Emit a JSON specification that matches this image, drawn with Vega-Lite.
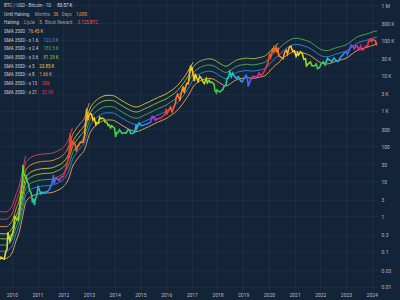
{
"$schema":"https://vega.github.io/schema/vega-lite/v6.json",
"width":378,"height":290,
"autosize":{"type":"none"},
"padding":{"left":0,"top":0,"right":22,"bottom":10},
"background":"#142438",
"config":{"view":{"stroke":null},"font":"Roboto"},
"datasets":{
"price":[
{"date":"2010-07-18","price":0.06},{"date":"2010-08-01","price":0.07},{"date":"2010-08-20","price":0.065},{"date":"2010-09-15","price":0.062},{"date":"2010-10-07","price":0.1},{"date":"2010-10-25","price":0.12},{"date":"2010-11-06","price":0.35},{"date":"2010-11-20","price":0.27},{"date":"2010-12-05","price":0.2},{"date":"2010-12-20","price":0.25},
{"date":"2011-01-10","price":0.32},{"date":"2011-01-28","price":0.45},{"date":"2011-02-10","price":1.05},{"date":"2011-02-25","price":0.9},{"date":"2011-03-15","price":0.85},{"date":"2011-04-01","price":0.78},{"date":"2011-04-20","price":1.4},{"date":"2011-05-05","price":3.4},{"date":"2011-05-20","price":6.5},{"date":"2011-06-01","price":9.5},{"date":"2011-06-08","price":29},{"date":"2011-06-15","price":17},{"date":"2011-06-25","price":16},{"date":"2011-07-10","price":14.5},{"date":"2011-07-25","price":13.8},{"date":"2011-08-10","price":9.5},{"date":"2011-08-25","price":8.5},{"date":"2011-09-10","price":5.5},{"date":"2011-09-25","price":5},{"date":"2011-10-10","price":4},{"date":"2011-10-20","price":2.5},{"date":"2011-11-05","price":3.2},{"date":"2011-11-18","price":2.1},{"date":"2011-12-01","price":3},{"date":"2011-12-20","price":3.9},
{"date":"2012-01-10","price":6.8},{"date":"2012-01-25","price":5.8},{"date":"2012-02-15","price":4.4},{"date":"2012-03-01","price":4.9},{"date":"2012-03-20","price":4.7},{"date":"2012-04-10","price":4.9},{"date":"2012-05-01","price":5},{"date":"2012-05-20","price":5.1},{"date":"2012-06-10","price":5.6},{"date":"2012-06-30","price":6.7},{"date":"2012-07-20","price":8.5},{"date":"2012-08-05","price":11},{"date":"2012-08-16","price":15},{"date":"2012-08-20","price":8.5},{"date":"2012-09-05","price":10.5},{"date":"2012-09-25","price":12.2},{"date":"2012-10-15","price":11.6},{"date":"2012-11-01","price":10.6},{"date":"2012-11-20","price":12},{"date":"2012-12-10","price":13.4},{"date":"2012-12-31","price":13.5},
{"date":"2013-01-20","price":17},{"date":"2013-02-10","price":24},{"date":"2013-02-28","price":33},{"date":"2013-03-15","price":47},{"date":"2013-03-31","price":93},{"date":"2013-04-09","price":230},{"date":"2013-04-16","price":70},{"date":"2013-04-28","price":135},{"date":"2013-05-15","price":115},{"date":"2013-06-01","price":128},{"date":"2013-06-20","price":108},{"date":"2013-07-05","price":70},{"date":"2013-07-20","price":92},{"date":"2013-08-10","price":105},{"date":"2013-08-30","price":128},{"date":"2013-09-20","price":127},{"date":"2013-10-10","price":130},{"date":"2013-10-30","price":200},{"date":"2013-11-10","price":330},{"date":"2013-11-20","price":600},{"date":"2013-11-29","price":1150},{"date":"2013-12-07","price":800},{"date":"2013-12-18","price":540},{"date":"2013-12-31","price":740},
{"date":"2014-01-15","price":830},{"date":"2014-02-05","price":800},{"date":"2014-02-25","price":550},{"date":"2014-03-15","price":620},{"date":"2014-04-10","price":400},{"date":"2014-04-25","price":460},{"date":"2014-05-15","price":440},{"date":"2014-06-02","price":650},{"date":"2014-06-20","price":590},{"date":"2014-07-10","price":620},{"date":"2014-08-01","price":590},{"date":"2014-08-18","price":480},{"date":"2014-09-10","price":475},{"date":"2014-09-30","price":385},{"date":"2014-10-15","price":395},{"date":"2014-11-05","price":330},{"date":"2014-11-20","price":375},{"date":"2014-12-10","price":350},{"date":"2014-12-31","price":315},
{"date":"2015-01-14","price":180},{"date":"2015-01-28","price":240},{"date":"2015-02-15","price":235},{"date":"2015-03-10","price":290},{"date":"2015-04-01","price":250},{"date":"2015-04-20","price":225},{"date":"2015-05-15","price":240},{"date":"2015-06-10","price":230},{"date":"2015-07-10","price":290},{"date":"2015-07-30","price":285},{"date":"2015-08-20","price":225},{"date":"2015-09-15","price":230},{"date":"2015-10-10","price":245},{"date":"2015-11-04","price":400},{"date":"2015-11-12","price":310},{"date":"2015-12-15","price":450},
{"date":"2016-01-15","price":380},{"date":"2016-02-10","price":380},{"date":"2016-03-05","price":410},{"date":"2016-04-01","price":415},{"date":"2016-05-01","price":450},{"date":"2016-05-25","price":470},{"date":"2016-06-17","price":730},{"date":"2016-06-25","price":620},{"date":"2016-07-15","price":660},{"date":"2016-08-02","price":540},{"date":"2016-08-25","price":580},{"date":"2016-09-20","price":600},{"date":"2016-10-20","price":630},{"date":"2016-11-15","price":710},{"date":"2016-12-20","price":790},
{"date":"2017-01-04","price":1130},{"date":"2017-01-12","price":780},{"date":"2017-02-01","price":980},{"date":"2017-03-03","price":1270},{"date":"2017-03-25","price":930},{"date":"2017-04-20","price":1230},{"date":"2017-05-15","price":1750},{"date":"2017-05-25","price":2400},{"date":"2017-06-12","price":2950},{"date":"2017-06-30","price":2450},{"date":"2017-07-16","price":1930},{"date":"2017-08-05","price":3200},{"date":"2017-08-20","price":4100},{"date":"2017-09-01","price":4900},{"date":"2017-09-15","price":3200},{"date":"2017-10-01","price":4400},{"date":"2017-10-20","price":6000},{"date":"2017-11-12","price":5900},{"date":"2017-11-28","price":9800},{"date":"2017-12-07","price":16000},{"date":"2017-12-17","price":19300},{"date":"2017-12-22","price":13800},
{"date":"2018-01-06","price":17100},{"date":"2018-01-17","price":11100},{"date":"2018-02-06","price":6900},{"date":"2018-02-20","price":11200},{"date":"2018-03-10","price":8800},{"date":"2018-04-01","price":6900},{"date":"2018-04-24","price":9500},{"date":"2018-05-20","price":8200},{"date":"2018-06-12","price":6500},{"date":"2018-06-28","price":5900},{"date":"2018-07-25","price":8200},{"date":"2018-08-10","price":6200},{"date":"2018-09-05","price":7300},{"date":"2018-09-20","price":6400},{"date":"2018-10-20","price":6450},{"date":"2018-11-15","price":5600},{"date":"2018-11-25","price":3800},{"date":"2018-12-15","price":3250},{"date":"2018-12-25","price":3900},
{"date":"2019-01-20","price":3550},{"date":"2019-02-07","price":3400},{"date":"2019-02-25","price":3800},{"date":"2019-03-20","price":4000},{"date":"2019-04-05","price":5000},{"date":"2019-04-30","price":5300},{"date":"2019-05-15","price":8000},{"date":"2019-06-01","price":8500},{"date":"2019-06-26","price":12900},{"date":"2019-07-17","price":9400},{"date":"2019-08-05","price":11800},{"date":"2019-08-29","price":9500},{"date":"2019-09-25","price":8400},{"date":"2019-10-25","price":9300},{"date":"2019-11-25","price":7100},{"date":"2019-12-17","price":6600},
{"date":"2020-01-10","price":7900},{"date":"2020-02-13","price":10300},{"date":"2020-03-01","price":8500},{"date":"2020-03-12","price":4900},{"date":"2020-04-01","price":6300},{"date":"2020-04-30","price":8700},{"date":"2020-05-20","price":9500},{"date":"2020-06-25","price":9200},{"date":"2020-07-25","price":9600},{"date":"2020-08-15","price":11800},{"date":"2020-09-05","price":10200},{"date":"2020-10-01","price":10700},{"date":"2020-10-25","price":13000},{"date":"2020-11-15","price":16000},{"date":"2020-12-01","price":19000},{"date":"2020-12-20","price":23500},
{"date":"2021-01-08","price":40000},{"date":"2021-01-25","price":32500},{"date":"2021-02-20","price":56000},{"date":"2021-02-28","price":45000},{"date":"2021-03-13","price":61000},{"date":"2021-03-25","price":52000},{"date":"2021-04-14","price":63500},{"date":"2021-04-25","price":49000},{"date":"2021-05-10","price":56000},{"date":"2021-05-19","price":37000},{"date":"2021-06-22","price":32500},{"date":"2021-07-20","price":29800},{"date":"2021-08-15","price":47000},{"date":"2021-09-06","price":52000},{"date":"2021-09-21","price":41000},{"date":"2021-10-20","price":65000},{"date":"2021-11-09","price":67500},{"date":"2021-12-04","price":49000},{"date":"2021-12-27","price":50700},
{"date":"2022-01-22","price":35000},{"date":"2022-02-10","price":44000},{"date":"2022-02-24","price":38000},{"date":"2022-03-28","price":47300},{"date":"2022-04-20","price":41500},{"date":"2022-05-12","price":29000},{"date":"2022-06-05","price":30000},{"date":"2022-06-18","price":19000},{"date":"2022-07-10","price":21000},{"date":"2022-08-13","price":24400},{"date":"2022-09-06","price":18800},{"date":"2022-10-15","price":19100},{"date":"2022-11-05","price":21300},{"date":"2022-11-21","price":15800},{"date":"2022-12-20","price":16800},
{"date":"2023-01-20","price":22700},{"date":"2023-02-15","price":24300},{"date":"2023-03-10","price":20100},{"date":"2023-04-14","price":30500},{"date":"2023-05-10","price":27600},{"date":"2023-06-15","price":25100},{"date":"2023-07-13","price":31400},{"date":"2023-08-17","price":26600},{"date":"2023-09-11","price":25100},{"date":"2023-10-24","price":34500},{"date":"2023-11-15","price":37800},{"date":"2023-12-08","price":44000},
{"date":"2024-01-11","price":46600},{"date":"2024-01-23","price":39500},{"date":"2024-02-15","price":51900},{"date":"2024-03-05","price":63700},{"date":"2024-03-14","price":73100},{"date":"2024-04-01","price":69700},{"date":"2024-05-01","price":57500},{"date":"2024-05-21","price":70200},{"date":"2024-06-07","price":69400},{"date":"2024-07-05","price":54000},{"date":"2024-07-29","price":68200},{"date":"2024-08-05","price":54000},{"date":"2024-09-06","price":53900},{"date":"2024-09-27","price":65800},{"date":"2024-10-29","price":72300},{"date":"2024-11-05","price":67800},{"date":"2024-11-12","price":88000},{"date":"2024-11-22","price":98900},{"date":"2024-12-05","price":97000},{"date":"2024-12-17","price":106000},{"date":"2024-12-30","price":92800},
{"date":"2025-01-21","price":106000},{"date":"2025-02-03","price":101000},{"date":"2025-02-20","price":98000},{"date":"2025-02-28","price":84300},{"date":"2025-03-03","price":86000},{"date":"2025-03-11","price":78500},{"date":"2025-03-16","price":83570}
],
"bands":[
{"date":"2010-07-18","band":"SMA 350D","value":0.065},{"date":"2010-10-01","band":"SMA 350D","value":0.064},{"date":"2011-01-01","band":"SMA 350D","value":0.09},{"date":"2011-03-01","band":"SMA 350D","value":0.2},{"date":"2011-04-15","band":"SMA 350D","value":0.35},{"date":"2011-06-08","band":"SMA 350D","value":1.1},{"date":"2011-07-15","band":"SMA 350D","value":2.48},{"date":"2011-09-01","band":"SMA 350D","value":3.3},{"date":"2011-10-15","band":"SMA 350D","value":3.8},{"date":"2012-01-01","band":"SMA 350D","value":4.3},{"date":"2012-04-01","band":"SMA 350D","value":4.6},{"date":"2012-07-01","band":"SMA 350D","value":4.7},{"date":"2012-10-01","band":"SMA 350D","value":5.4},{"date":"2013-01-01","band":"SMA 350D","value":7.0},{"date":"2013-03-01","band":"SMA 350D","value":10},{"date":"2013-04-10","band":"SMA 350D","value":16},{"date":"2013-05-10","band":"SMA 350D","value":25.1},{"date":"2013-07-01","band":"SMA 350D","value":38},{"date":"2013-09-01","band":"SMA 350D","value":55},{"date":"2013-11-01","band":"SMA 350D","value":80},{"date":"2013-12-04","band":"SMA 350D","value":130},{"date":"2014-01-05","band":"SMA 350D","value":207},{"date":"2014-03-01","band":"SMA 350D","value":320},{"date":"2014-05-01","band":"SMA 350D","value":420},{"date":"2014-07-01","band":"SMA 350D","value":500},{"date":"2014-09-01","band":"SMA 350D","value":545},{"date":"2014-11-01","band":"SMA 350D","value":550},{"date":"2015-01-01","band":"SMA 350D","value":520},{"date":"2015-03-01","band":"SMA 350D","value":440},{"date":"2015-05-01","band":"SMA 350D","value":370},{"date":"2015-07-01","band":"SMA 350D","value":315},{"date":"2015-09-01","band":"SMA 350D","value":275},{"date":"2015-11-01","band":"SMA 350D","value":255},{"date":"2016-01-01","band":"SMA 350D","value":275},{"date":"2016-03-01","band":"SMA 350D","value":315},{"date":"2016-05-01","band":"SMA 350D","value":355},{"date":"2016-07-01","band":"SMA 350D","value":410},{"date":"2016-09-01","band":"SMA 350D","value":470},{"date":"2016-11-01","band":"SMA 350D","value":530},{"date":"2017-01-01","band":"SMA 350D","value":600},{"date":"2017-03-01","band":"SMA 350D","value":720},{"date":"2017-05-01","band":"SMA 350D","value":870},{"date":"2017-07-01","band":"SMA 350D","value":1150},{"date":"2017-09-01","band":"SMA 350D","value":1650},{"date":"2017-11-01","band":"SMA 350D","value":2500},{"date":"2017-12-17","band":"SMA 350D","value":3600},{"date":"2018-01-20","band":"SMA 350D","value":4770},{"date":"2018-03-01","band":"SMA 350D","value":5900},{"date":"2018-05-01","band":"SMA 350D","value":7100},{"date":"2018-07-01","band":"SMA 350D","value":7900},{"date":"2018-09-01","band":"SMA 350D","value":8300},{"date":"2018-11-01","band":"SMA 350D","value":7900},{"date":"2019-01-01","band":"SMA 350D","value":6800},{"date":"2019-03-01","band":"SMA 350D","value":5700},{"date":"2019-05-01","band":"SMA 350D","value":5100},{"date":"2019-07-01","band":"SMA 350D","value":5800},{"date":"2019-09-01","band":"SMA 350D","value":7100},{"date":"2019-11-01","band":"SMA 350D","value":8000},{"date":"2020-01-01","band":"SMA 350D","value":8400},{"date":"2020-03-01","band":"SMA 350D","value":8700},{"date":"2020-05-01","band":"SMA 350D","value":8300},{"date":"2020-07-01","band":"SMA 350D","value":8500},{"date":"2020-09-01","band":"SMA 350D","value":9100},{"date":"2020-11-01","band":"SMA 350D","value":9800},{"date":"2021-01-01","band":"SMA 350D","value":12500},{"date":"2021-03-01","band":"SMA 350D","value":17000},{"date":"2021-04-14","band":"SMA 350D","value":20500},{"date":"2021-05-15","band":"SMA 350D","value":22580},{"date":"2021-07-01","band":"SMA 350D","value":29000},{"date":"2021-08-15","band":"SMA 350D","value":34000},{"date":"2021-10-01","band":"SMA 350D","value":39500},{"date":"2021-12-01","band":"SMA 350D","value":46000},{"date":"2022-02-01","band":"SMA 350D","value":47500},{"date":"2022-04-01","band":"SMA 350D","value":45500},{"date":"2022-06-01","band":"SMA 350D","value":42000},{"date":"2022-08-01","band":"SMA 350D","value":37500},{"date":"2022-10-01","band":"SMA 350D","value":31500},{"date":"2022-12-01","band":"SMA 350D","value":25500},{"date":"2023-02-01","band":"SMA 350D","value":22000},{"date":"2023-04-01","band":"SMA 350D","value":21200},{"date":"2023-06-01","band":"SMA 350D","value":22500},{"date":"2023-08-01","band":"SMA 350D","value":25000},{"date":"2023-10-01","band":"SMA 350D","value":27000},{"date":"2023-12-01","band":"SMA 350D","value":29300},{"date":"2024-02-01","band":"SMA 350D","value":33500},{"date":"2024-04-01","band":"SMA 350D","value":41500},{"date":"2024-06-01","band":"SMA 350D","value":50500},{"date":"2024-08-01","band":"SMA 350D","value":57000},{"date":"2024-10-01","band":"SMA 350D","value":61000},{"date":"2024-12-01","band":"SMA 350D","value":67000},{"date":"2025-02-01","band":"SMA 350D","value":74000},{"date":"2025-03-16","band":"SMA 350D","value":76450},
{"date":"2010-07-18","band":"x 1.6","value":0.104},{"date":"2010-10-01","band":"x 1.6","value":0.1024},{"date":"2011-01-01","band":"x 1.6","value":0.144},{"date":"2011-03-01","band":"x 1.6","value":0.32},{"date":"2011-04-15","band":"x 1.6","value":0.56},{"date":"2011-06-08","band":"x 1.6","value":1.76},{"date":"2011-07-15","band":"x 1.6","value":3.968},{"date":"2011-09-01","band":"x 1.6","value":5.28},{"date":"2011-10-15","band":"x 1.6","value":6.08},{"date":"2012-01-01","band":"x 1.6","value":6.88},{"date":"2012-04-01","band":"x 1.6","value":7.36},{"date":"2012-07-01","band":"x 1.6","value":7.52},{"date":"2012-10-01","band":"x 1.6","value":8.64},{"date":"2013-01-01","band":"x 1.6","value":11.2},{"date":"2013-03-01","band":"x 1.6","value":16},{"date":"2013-04-10","band":"x 1.6","value":25.6},{"date":"2013-05-10","band":"x 1.6","value":40.16},{"date":"2013-07-01","band":"x 1.6","value":60.8},{"date":"2013-09-01","band":"x 1.6","value":88},{"date":"2013-11-01","band":"x 1.6","value":128},{"date":"2013-12-04","band":"x 1.6","value":208},{"date":"2014-01-05","band":"x 1.6","value":331.2},{"date":"2014-03-01","band":"x 1.6","value":512},{"date":"2014-05-01","band":"x 1.6","value":672},{"date":"2014-07-01","band":"x 1.6","value":800},{"date":"2014-09-01","band":"x 1.6","value":872},{"date":"2014-11-01","band":"x 1.6","value":880},{"date":"2015-01-01","band":"x 1.6","value":832},{"date":"2015-03-01","band":"x 1.6","value":704},{"date":"2015-05-01","band":"x 1.6","value":592},{"date":"2015-07-01","band":"x 1.6","value":504},{"date":"2015-09-01","band":"x 1.6","value":440},{"date":"2015-11-01","band":"x 1.6","value":408},{"date":"2016-01-01","band":"x 1.6","value":440},{"date":"2016-03-01","band":"x 1.6","value":504},{"date":"2016-05-01","band":"x 1.6","value":568},{"date":"2016-07-01","band":"x 1.6","value":656},{"date":"2016-09-01","band":"x 1.6","value":752},{"date":"2016-11-01","band":"x 1.6","value":848},{"date":"2017-01-01","band":"x 1.6","value":960},{"date":"2017-03-01","band":"x 1.6","value":1152},{"date":"2017-05-01","band":"x 1.6","value":1392},{"date":"2017-07-01","band":"x 1.6","value":1840},{"date":"2017-09-01","band":"x 1.6","value":2640},{"date":"2017-11-01","band":"x 1.6","value":4000},{"date":"2017-12-17","band":"x 1.6","value":5760},{"date":"2018-01-20","band":"x 1.6","value":7632},{"date":"2018-03-01","band":"x 1.6","value":9440},{"date":"2018-05-01","band":"x 1.6","value":11360},{"date":"2018-07-01","band":"x 1.6","value":12640},{"date":"2018-09-01","band":"x 1.6","value":13280},{"date":"2018-11-01","band":"x 1.6","value":12640},{"date":"2019-01-01","band":"x 1.6","value":10880},{"date":"2019-03-01","band":"x 1.6","value":9120},{"date":"2019-05-01","band":"x 1.6","value":8160},{"date":"2019-07-01","band":"x 1.6","value":9280},{"date":"2019-09-01","band":"x 1.6","value":11360},{"date":"2019-11-01","band":"x 1.6","value":12800},{"date":"2020-01-01","band":"x 1.6","value":13440},{"date":"2020-03-01","band":"x 1.6","value":13920},{"date":"2020-05-01","band":"x 1.6","value":13280},{"date":"2020-07-01","band":"x 1.6","value":13600},{"date":"2020-09-01","band":"x 1.6","value":14560},{"date":"2020-11-01","band":"x 1.6","value":15680},{"date":"2021-01-01","band":"x 1.6","value":20000},{"date":"2021-03-01","band":"x 1.6","value":27200},{"date":"2021-04-14","band":"x 1.6","value":32800},{"date":"2021-05-15","band":"x 1.6","value":36128},{"date":"2021-07-01","band":"x 1.6","value":46400},{"date":"2021-08-15","band":"x 1.6","value":54400},{"date":"2021-10-01","band":"x 1.6","value":63200},{"date":"2021-12-01","band":"x 1.6","value":73600},{"date":"2022-02-01","band":"x 1.6","value":76000},{"date":"2022-04-01","band":"x 1.6","value":72800},{"date":"2022-06-01","band":"x 1.6","value":67200},{"date":"2022-08-01","band":"x 1.6","value":60000},{"date":"2022-10-01","band":"x 1.6","value":50400},{"date":"2022-12-01","band":"x 1.6","value":40800},{"date":"2023-02-01","band":"x 1.6","value":35200},{"date":"2023-04-01","band":"x 1.6","value":33920},{"date":"2023-06-01","band":"x 1.6","value":36000},{"date":"2023-08-01","band":"x 1.6","value":40000},{"date":"2023-10-01","band":"x 1.6","value":43200},{"date":"2023-12-01","band":"x 1.6","value":46880},{"date":"2024-02-01","band":"x 1.6","value":53600},{"date":"2024-04-01","band":"x 1.6","value":66400},{"date":"2024-06-01","band":"x 1.6","value":80800},{"date":"2024-08-01","band":"x 1.6","value":91200},{"date":"2024-10-01","band":"x 1.6","value":97600},{"date":"2024-12-01","band":"x 1.6","value":107200},{"date":"2025-02-01","band":"x 1.6","value":118400},{"date":"2025-03-16","band":"x 1.6","value":122320},
{"date":"2010-07-18","band":"x 2.4","value":0.156},{"date":"2010-10-01","band":"x 2.4","value":0.1536},{"date":"2011-01-01","band":"x 2.4","value":0.216},{"date":"2011-03-01","band":"x 2.4","value":0.48},{"date":"2011-04-15","band":"x 2.4","value":0.84},{"date":"2011-06-08","band":"x 2.4","value":2.64},{"date":"2011-07-15","band":"x 2.4","value":5.952},{"date":"2011-09-01","band":"x 2.4","value":7.92},{"date":"2011-10-15","band":"x 2.4","value":9.12},{"date":"2012-01-01","band":"x 2.4","value":10.32},{"date":"2012-04-01","band":"x 2.4","value":11.04},{"date":"2012-07-01","band":"x 2.4","value":11.28},{"date":"2012-10-01","band":"x 2.4","value":12.96},{"date":"2013-01-01","band":"x 2.4","value":16.8},{"date":"2013-03-01","band":"x 2.4","value":24},{"date":"2013-04-10","band":"x 2.4","value":38.4},{"date":"2013-05-10","band":"x 2.4","value":60.24},{"date":"2013-07-01","band":"x 2.4","value":91.2},{"date":"2013-09-01","band":"x 2.4","value":132},{"date":"2013-11-01","band":"x 2.4","value":192},{"date":"2013-12-04","band":"x 2.4","value":312},{"date":"2014-01-05","band":"x 2.4","value":496.8},{"date":"2014-03-01","band":"x 2.4","value":768},{"date":"2014-05-01","band":"x 2.4","value":1008},{"date":"2014-07-01","band":"x 2.4","value":1200},{"date":"2014-09-01","band":"x 2.4","value":1308},{"date":"2014-11-01","band":"x 2.4","value":1320},{"date":"2015-01-01","band":"x 2.4","value":1248},{"date":"2015-03-01","band":"x 2.4","value":1056},{"date":"2015-05-01","band":"x 2.4","value":888},{"date":"2015-07-01","band":"x 2.4","value":756},{"date":"2015-09-01","band":"x 2.4","value":660},{"date":"2015-11-01","band":"x 2.4","value":612},{"date":"2016-01-01","band":"x 2.4","value":660},{"date":"2016-03-01","band":"x 2.4","value":756},{"date":"2016-05-01","band":"x 2.4","value":852},{"date":"2016-07-01","band":"x 2.4","value":984},{"date":"2016-09-01","band":"x 2.4","value":1128},{"date":"2016-11-01","band":"x 2.4","value":1272},{"date":"2017-01-01","band":"x 2.4","value":1440},{"date":"2017-03-01","band":"x 2.4","value":1728},{"date":"2017-05-01","band":"x 2.4","value":2088},{"date":"2017-07-01","band":"x 2.4","value":2760},{"date":"2017-09-01","band":"x 2.4","value":3960},{"date":"2017-11-01","band":"x 2.4","value":6000},{"date":"2017-12-17","band":"x 2.4","value":8640},{"date":"2018-01-20","band":"x 2.4","value":11448},{"date":"2018-03-01","band":"x 2.4","value":14160},{"date":"2018-05-01","band":"x 2.4","value":17040},{"date":"2018-07-01","band":"x 2.4","value":18960},{"date":"2018-09-01","band":"x 2.4","value":19920},{"date":"2018-11-01","band":"x 2.4","value":18960},{"date":"2019-01-01","band":"x 2.4","value":16320},{"date":"2019-03-01","band":"x 2.4","value":13680},{"date":"2019-05-01","band":"x 2.4","value":12240},{"date":"2019-07-01","band":"x 2.4","value":13920},{"date":"2019-09-01","band":"x 2.4","value":17040},{"date":"2019-11-01","band":"x 2.4","value":19200},{"date":"2020-01-01","band":"x 2.4","value":20160},{"date":"2020-03-01","band":"x 2.4","value":20880},{"date":"2020-05-01","band":"x 2.4","value":19920},{"date":"2020-07-01","band":"x 2.4","value":20400},{"date":"2020-09-01","band":"x 2.4","value":21840},{"date":"2020-11-01","band":"x 2.4","value":23520},{"date":"2021-01-01","band":"x 2.4","value":30000},{"date":"2021-03-01","band":"x 2.4","value":40800},{"date":"2021-04-14","band":"x 2.4","value":49200},{"date":"2021-05-15","band":"x 2.4","value":54192},{"date":"2021-07-01","band":"x 2.4","value":69600},{"date":"2021-08-15","band":"x 2.4","value":81600},{"date":"2021-10-01","band":"x 2.4","value":94800},{"date":"2021-12-01","band":"x 2.4","value":110400},{"date":"2022-02-01","band":"x 2.4","value":114000},{"date":"2022-04-01","band":"x 2.4","value":109200},{"date":"2022-06-01","band":"x 2.4","value":100800},{"date":"2022-08-01","band":"x 2.4","value":90000},{"date":"2022-10-01","band":"x 2.4","value":75600},{"date":"2022-12-01","band":"x 2.4","value":61200},{"date":"2023-02-01","band":"x 2.4","value":52800},{"date":"2023-04-01","band":"x 2.4","value":50880},{"date":"2023-06-01","band":"x 2.4","value":54000},{"date":"2023-08-01","band":"x 2.4","value":60000},{"date":"2023-10-01","band":"x 2.4","value":64800},{"date":"2023-12-01","band":"x 2.4","value":70320},{"date":"2024-02-01","band":"x 2.4","value":80400},{"date":"2024-04-01","band":"x 2.4","value":99600},{"date":"2024-06-01","band":"x 2.4","value":121200},{"date":"2024-08-01","band":"x 2.4","value":136800},{"date":"2024-10-01","band":"x 2.4","value":146400},{"date":"2024-12-01","band":"x 2.4","value":160800},{"date":"2025-02-01","band":"x 2.4","value":177600},{"date":"2025-03-16","band":"x 2.4","value":183480},
{"date":"2010-07-18","band":"x 3.6","value":0.234},{"date":"2010-10-01","band":"x 3.6","value":0.2304},{"date":"2011-01-01","band":"x 3.6","value":0.324},{"date":"2011-03-01","band":"x 3.6","value":0.72},{"date":"2011-04-15","band":"x 3.6","value":1.26},{"date":"2011-06-08","band":"x 3.6","value":3.96},{"date":"2011-07-15","band":"x 3.6","value":8.928},{"date":"2011-09-01","band":"x 3.6","value":11.88},{"date":"2011-10-15","band":"x 3.6","value":13.68},{"date":"2012-01-01","band":"x 3.6","value":15.48},{"date":"2012-04-01","band":"x 3.6","value":16.56},{"date":"2012-07-01","band":"x 3.6","value":16.92},{"date":"2012-10-01","band":"x 3.6","value":19.44},{"date":"2013-01-01","band":"x 3.6","value":25.2},{"date":"2013-03-01","band":"x 3.6","value":36},{"date":"2013-04-10","band":"x 3.6","value":57.6},{"date":"2013-05-10","band":"x 3.6","value":90.36},{"date":"2013-07-01","band":"x 3.6","value":136.8},{"date":"2013-09-01","band":"x 3.6","value":198},{"date":"2013-11-01","band":"x 3.6","value":288},{"date":"2013-12-04","band":"x 3.6","value":468},{"date":"2014-01-05","band":"x 3.6","value":745.2},{"date":"2014-03-01","band":"x 3.6","value":1152},{"date":"2014-05-01","band":"x 3.6","value":1512},{"date":"2014-07-01","band":"x 3.6","value":1800},{"date":"2014-09-01","band":"x 3.6","value":1962},{"date":"2014-11-01","band":"x 3.6","value":1980},{"date":"2015-01-01","band":"x 3.6","value":1872},{"date":"2015-03-01","band":"x 3.6","value":1584},{"date":"2015-05-01","band":"x 3.6","value":1332},{"date":"2015-07-01","band":"x 3.6","value":1134},{"date":"2015-09-01","band":"x 3.6","value":990},{"date":"2015-11-01","band":"x 3.6","value":918},{"date":"2016-01-01","band":"x 3.6","value":990},{"date":"2016-03-01","band":"x 3.6","value":1134},{"date":"2016-05-01","band":"x 3.6","value":1278},{"date":"2016-07-01","band":"x 3.6","value":1476},{"date":"2016-09-01","band":"x 3.6","value":1692},{"date":"2016-11-01","band":"x 3.6","value":1908},{"date":"2017-01-01","band":"x 3.6","value":2160},{"date":"2017-03-01","band":"x 3.6","value":2592},{"date":"2017-05-01","band":"x 3.6","value":3132},{"date":"2017-07-01","band":"x 3.6","value":4140},{"date":"2017-09-01","band":"x 3.6","value":5940},{"date":"2017-11-01","band":"x 3.6","value":9000},{"date":"2017-12-17","band":"x 3.6","value":12960},{"date":"2018-01-20","band":"x 3.6","value":17172},{"date":"2018-03-01","band":"x 3.6","value":21240},{"date":"2018-05-01","band":"x 3.6","value":25560},{"date":"2018-07-01","band":"x 3.6","value":28440},{"date":"2018-09-01","band":"x 3.6","value":29880},{"date":"2018-11-01","band":"x 3.6","value":28440},{"date":"2019-01-01","band":"x 3.6","value":24480},{"date":"2019-03-01","band":"x 3.6","value":20520},{"date":"2019-05-01","band":"x 3.6","value":18360},{"date":"2019-07-01","band":"x 3.6","value":20880},{"date":"2019-09-01","band":"x 3.6","value":25560},{"date":"2019-11-01","band":"x 3.6","value":28800},{"date":"2020-01-01","band":"x 3.6","value":30240},{"date":"2020-03-01","band":"x 3.6","value":31320},{"date":"2020-05-01","band":"x 3.6","value":29880},{"date":"2020-07-01","band":"x 3.6","value":30600},{"date":"2020-09-01","band":"x 3.6","value":32760},{"date":"2020-11-01","band":"x 3.6","value":35280},{"date":"2021-01-01","band":"x 3.6","value":45000},{"date":"2021-03-01","band":"x 3.6","value":61200},{"date":"2021-04-14","band":"x 3.6","value":73800},{"date":"2021-05-15","band":"x 3.6","value":81288},
{"date":"2010-07-18","band":"x 5","value":0.325},{"date":"2010-10-01","band":"x 5","value":0.32},{"date":"2011-01-01","band":"x 5","value":0.45},{"date":"2011-03-01","band":"x 5","value":1.0},{"date":"2011-04-15","band":"x 5","value":1.75},{"date":"2011-06-08","band":"x 5","value":5.5},{"date":"2011-07-15","band":"x 5","value":12.4},{"date":"2011-09-01","band":"x 5","value":16.5},{"date":"2011-10-15","band":"x 5","value":19},{"date":"2012-01-01","band":"x 5","value":21.5},{"date":"2012-04-01","band":"x 5","value":23},{"date":"2012-07-01","band":"x 5","value":23.5},{"date":"2012-10-01","band":"x 5","value":27},{"date":"2013-01-01","band":"x 5","value":35},{"date":"2013-03-01","band":"x 5","value":50},{"date":"2013-04-10","band":"x 5","value":80},{"date":"2013-05-10","band":"x 5","value":125.5},{"date":"2013-07-01","band":"x 5","value":190},{"date":"2013-09-01","band":"x 5","value":275},{"date":"2013-11-01","band":"x 5","value":400},{"date":"2013-12-04","band":"x 5","value":650},{"date":"2014-01-05","band":"x 5","value":1035},{"date":"2014-03-01","band":"x 5","value":1600},{"date":"2014-05-01","band":"x 5","value":2100},{"date":"2014-07-01","band":"x 5","value":2500},{"date":"2014-09-01","band":"x 5","value":2725},{"date":"2014-11-01","band":"x 5","value":2750},{"date":"2015-01-01","band":"x 5","value":2600},{"date":"2015-03-01","band":"x 5","value":2200},{"date":"2015-05-01","band":"x 5","value":1850},{"date":"2015-07-01","band":"x 5","value":1575},{"date":"2015-09-01","band":"x 5","value":1375},{"date":"2015-11-01","band":"x 5","value":1275},{"date":"2016-01-01","band":"x 5","value":1375},{"date":"2016-03-01","band":"x 5","value":1575},{"date":"2016-05-01","band":"x 5","value":1775},{"date":"2016-07-01","band":"x 5","value":2050},{"date":"2016-09-01","band":"x 5","value":2350},{"date":"2016-11-01","band":"x 5","value":2650},{"date":"2017-01-01","band":"x 5","value":3000},{"date":"2017-03-01","band":"x 5","value":3600},{"date":"2017-05-01","band":"x 5","value":4350},{"date":"2017-07-01","band":"x 5","value":5750},{"date":"2017-09-01","band":"x 5","value":8250},{"date":"2017-11-01","band":"x 5","value":12500},{"date":"2017-12-17","band":"x 5","value":18000},{"date":"2018-01-20","band":"x 5","value":23850},
{"date":"2010-07-18","band":"x 8","value":0.52},{"date":"2010-10-01","band":"x 8","value":0.512},{"date":"2011-01-01","band":"x 8","value":0.72},{"date":"2011-03-01","band":"x 8","value":1.6},{"date":"2011-04-15","band":"x 8","value":2.8},{"date":"2011-06-08","band":"x 8","value":8.8},{"date":"2011-07-15","band":"x 8","value":19.84},{"date":"2011-09-01","band":"x 8","value":26.4},{"date":"2011-10-15","band":"x 8","value":30.4},{"date":"2012-01-01","band":"x 8","value":34.4},{"date":"2012-04-01","band":"x 8","value":36.8},{"date":"2012-07-01","band":"x 8","value":37.6},{"date":"2012-10-01","band":"x 8","value":43.2},{"date":"2013-01-01","band":"x 8","value":56},{"date":"2013-03-01","band":"x 8","value":80},{"date":"2013-04-10","band":"x 8","value":128},{"date":"2013-05-10","band":"x 8","value":200.8},{"date":"2013-07-01","band":"x 8","value":304},{"date":"2013-09-01","band":"x 8","value":440},{"date":"2013-11-01","band":"x 8","value":640},{"date":"2013-12-04","band":"x 8","value":1040},{"date":"2014-01-05","band":"x 8","value":1656},
{"date":"2010-07-18","band":"x 13","value":0.845},{"date":"2010-10-01","band":"x 13","value":0.832},{"date":"2011-01-01","band":"x 13","value":1.17},{"date":"2011-03-01","band":"x 13","value":2.6},{"date":"2011-04-15","band":"x 13","value":4.55},{"date":"2011-06-08","band":"x 13","value":14.3},{"date":"2011-07-15","band":"x 13","value":32.24},{"date":"2011-09-01","band":"x 13","value":42.9},{"date":"2011-10-15","band":"x 13","value":49.4},{"date":"2012-01-01","band":"x 13","value":55.9},{"date":"2012-04-01","band":"x 13","value":59.8},{"date":"2012-07-01","band":"x 13","value":61.1},{"date":"2012-10-01","band":"x 13","value":70.2},{"date":"2013-01-01","band":"x 13","value":91},{"date":"2013-03-01","band":"x 13","value":130},{"date":"2013-04-10","band":"x 13","value":208},{"date":"2013-05-10","band":"x 13","value":326.3},
{"date":"2010-07-18","band":"x 21","value":1.365},{"date":"2010-10-01","band":"x 21","value":1.344},{"date":"2011-01-01","band":"x 21","value":1.89},{"date":"2011-03-01","band":"x 21","value":4.2},{"date":"2011-04-15","band":"x 21","value":7.35},{"date":"2011-06-08","band":"x 21","value":23.1},{"date":"2011-07-15","band":"x 21","value":52.08}
],
"legend":[
{"row":1,"seg":1,"text":"BTC / USD - Bitcoin - 1D","tone":"head"},{"row":1,"seg":2,"text":"83.57 K","tone":"price"},
{"row":2,"seg":1,"text":"Until Halving","tone":"head"},{"row":2,"seg":2,"text":"Months","tone":"label"},{"row":2,"seg":3,"text":"36","tone":"orange"},{"row":2,"seg":4,"text":"Days","tone":"label"},{"row":2,"seg":5,"text":"1,080","tone":"orange"},
{"row":3,"seg":1,"text":"Halving","tone":"head"},{"row":3,"seg":2,"text":"Cycle","tone":"label"},{"row":3,"seg":3,"text":"5","tone":"orange"},{"row":3,"seg":4,"text":"Block Reward","tone":"label"},{"row":3,"seg":5,"text":"3.125 BTC","tone":"red"},
{"row":4,"seg":1,"text":"SMA 350D","tone":"head"},{"row":4,"seg":2,"text":"76.45 K","tone":"sma"},
{"row":5,"seg":1,"text":"SMA 350D - x 1.6","tone":"head"},{"row":5,"seg":2,"text":"122.3 K","tone":"blue"},
{"row":6,"seg":1,"text":"SMA 350D - x 2.4","tone":"head"},{"row":6,"seg":2,"text":"183.5 K","tone":"green"},
{"row":7,"seg":1,"text":"SMA 350D - x 3.6","tone":"head"},{"row":7,"seg":2,"text":"81.29 K","tone":"lime"},
{"row":8,"seg":1,"text":"SMA 350D - x 5","tone":"head"},{"row":8,"seg":2,"text":"23.85 K","tone":"yellow"},
{"row":9,"seg":1,"text":"SMA 350D - x 8","tone":"head"},{"row":9,"seg":2,"text":"1.66 K","tone":"orange2"},
{"row":10,"seg":1,"text":"SMA 350D - x 13","tone":"head"},{"row":10,"seg":2,"text":"326","tone":"red2"},
{"row":11,"seg":1,"text":"SMA 350D - x 21","tone":"head"},{"row":11,"seg":2,"text":"51.99","tone":"magenta"}
]
},
"layer":[
{"layer":[
{"data":{"name":"bands"},
"mark":{"type":"line","interpolate":"monotone","strokeWidth":0.9},
"encoding":{
"x":{"field":"date","type":"temporal","scale":{"type":"utc","domain":[{"year":2010,"month":7,"date":17,"utc":true},{"year":2025,"month":3,"date":31,"utc":true}],"nice":false},
"axis":{"orient":"bottom","title":null,"domain":false,"ticks":false,"labelPadding":2,"labelFontSize":5,"labelColor":"#b4b8c2","labelFlush":false,"labelOverlap":false,"tickCount":"year","labelExpr":"toString(utcyear(datum.value)-1)","grid":true,"gridColor":"#ffffff","gridOpacity":0.045}},
"y":{"field":"value","type":"quantitative","scale":{"type":"log","domain":[0.0082,1390000],"nice":false},
"axis":{"orient":"right","title":null,"domain":false,"ticks":false,"labelPadding":3,"labelFontSize":5,"labelColor":"#b4b8c2","labelFlush":false,"labelOverlap":false,"values":[1000000,300000,100000,30000,10000,3000,1000,300,100,30,10,3,1,0.3,0.1,0.03,0.01],"labelExpr":"datum.value>=1000000 ? (datum.value/1000000)+' M' : datum.value>=1000 ? (datum.value/1000)+' K' : toString(datum.value)","grid":true,"gridColor":"#ffffff","gridOpacity":0.035}},
"color":{"field":"band","type":"nominal","scale":{"domain":["SMA 350D","x 1.6","x 2.4","x 3.6","x 5","x 8","x 13","x 21"],"range":["#eeaa55","#3b86d6","#4caf50","#9cc43c","#dcc83a","#ee9430","#e0483e","#d23c86"]},"legend":null},
"strokeWidth":{"condition":{"test":"datum.band==='SMA 350D'","value":1.3},"value":0.9}
}},
{"data":{"name":"price"},
"mark":{"type":"line","strokeWidth":1.6,"stroke":{"gradient":"linear","x1":0,"y1":0,"x2":1,"y2":0,"stops":[
{"offset":0,"color":"#e8d02a"},{"offset":0.0318,"color":"#c8e030"},{"offset":0.0584,"color":"#66dd33"},{"offset":0.0849,"color":"#22cc88"},{"offset":0.1114,"color":"#22b8d8"},{"offset":0.1379,"color":"#3377ff"},{"offset":0.1565,"color":"#cc33cc"},{"offset":0.1724,"color":"#ee2244"},{"offset":0.1989,"color":"#ff5522"},{"offset":0.2228,"color":"#ff9922"},{"offset":0.244,"color":"#ffd020"},{"offset":0.2706,"color":"#bbdd22"},{"offset":0.305,"color":"#44cc33"},{"offset":0.3448,"color":"#22ccaa"},{"offset":0.3714,"color":"#22aaee"},{"offset":0.3952,"color":"#3366ff"},{"offset":0.4111,"color":"#cc33cc"},{"offset":0.4297,"color":"#ee2244"},{"offset":0.4642,"color":"#ff6622"},{"offset":0.4934,"color":"#ff9f1a"},{"offset":0.5172,"color":"#ffd21f"},{"offset":0.5438,"color":"#bbdd22"},{"offset":0.5703,"color":"#44cc33"},{"offset":0.6048,"color":"#22ccaa"},{"offset":0.6366,"color":"#22aaee"},{"offset":0.6578,"color":"#3366ff"},{"offset":0.6737,"color":"#cc33cc"},{"offset":0.6976,"color":"#ee2244"},{"offset":0.7294,"color":"#ff6622"},{"offset":0.756,"color":"#ffa020"},{"offset":0.7825,"color":"#ffd820"},{"offset":0.809,"color":"#aadd22"},{"offset":0.8355,"color":"#44cc33"},{"offset":0.87,"color":"#22ccaa"},{"offset":0.8966,"color":"#22aaee"},{"offset":0.9231,"color":"#3366ff"},{"offset":0.9416,"color":"#cc33cc"},{"offset":0.9655,"color":"#ee2244"},{"offset":1,"color":"#ff5533"}]}},
"encoding":{
"x":{"field":"date","type":"temporal"},
"y":{"field":"price","type":"quantitative"}
}}
]},
{"data":{"name":"legend"},
"transform":[
{"calculate":"(length(split(datum.text,' '))-1)+(length(split(datum.text,'-'))-1)+(length(split(datum.text,'.'))-1)+(length(split(datum.text,','))-1)+(length(split(datum.text,'/'))-1)+(length(split(datum.text,'i'))-1)+(length(split(datum.text,'l'))-1)+(length(split(datum.text,'t'))-1)+(length(split(datum.text,'r'))-1)","as":"narrow"},
{"calculate":"2.85*(length(datum.text)-datum.narrow)+1.35*datum.narrow+2.8","as":"w"},
{"window":[{"op":"sum","field":"w","as":"cum"}],"groupby":["row"],"sort":[{"field":"seg","order":"ascending"}],"frame":[null,0]},
{"calculate":"datum.cum-datum.w","as":"start"}
],
"mark":{"type":"text","align":"left","baseline":"middle","fontSize":4.5,"font":"Roboto"},
"encoding":{
"x":{"field":"start","type":"quantitative","scale":{"domain":[-4,374],"nice":false,"zero":false},"axis":null},
"y":{"field":"row","type":"quantitative","scale":{"domain":[0.3,33.75],"nice":false,"zero":false,"reverse":true},"axis":null},
"text":{"field":"text"},
"color":{"field":"tone","type":"nominal","scale":{"domain":["head","label","price","orange","red","sma","blue","green","lime","yellow","orange2","red2","magenta"],"range":["#c9ccd4","#9a9ea8","#e2e5ec","#f59a23","#f0504a","#f5b04a","#3d8fe0","#4caf50","#a3c93a","#e6d43a","#f0a040","#e5533d","#d9368a"]},"legend":null}
}}
],
"resolve":{"scale":{"x":"independent","y":"independent","color":"independent"}}
}
